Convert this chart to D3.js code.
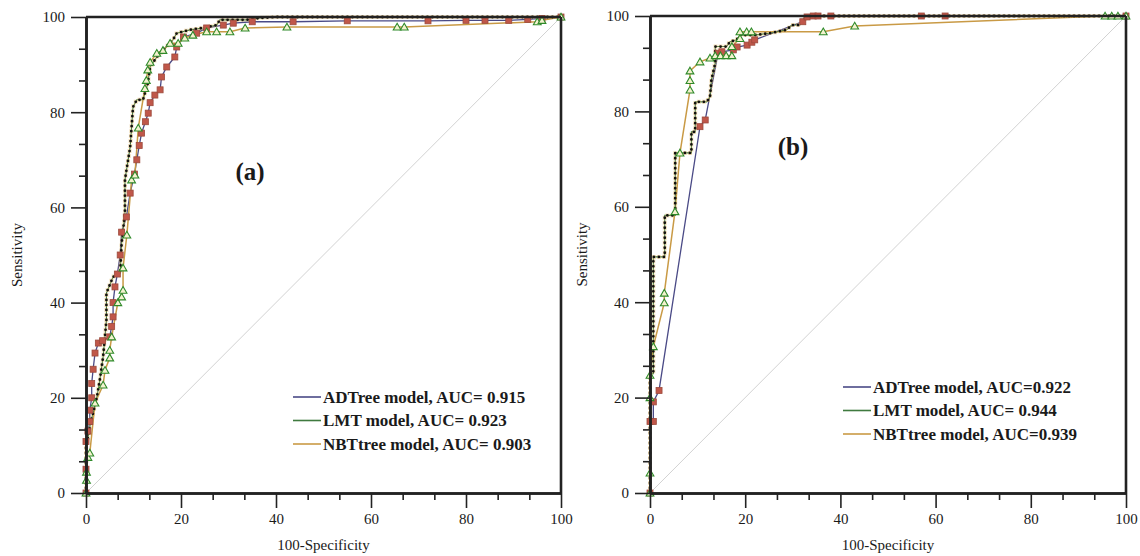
<!DOCTYPE html>
<html>
<head>
<meta charset="utf-8">
<script src="https://cdn.jsdelivr.net/npm/d3@7"></script>
<style>
  body { margin: 0; background: #fff; }
  text { font-family: "Liberation Serif", "Times New Roman", serif; fill: #1a1a1a; }
</style>
</head>
<body>
<div id="chart"></div>
<script>
// tick labels
var majorTicks = [0, 20, 40, 60, 80, 100];
var xTitle = "100-Specificity";
var yTitle = "Sensitivity";

// legend text
var legendA = ["ADTree model, AUC= 0.915", "LMT model, AUC= 0.923", "NBTtree model, AUC= 0.903"];
var legendB = ["ADTree model, AUC=0.922", "LMT model, AUC= 0.944", "NBTtree model, AUC=0.939"];

// panel (a) curves: [100-specificity, sensitivity]
var adtreeA = [[0,0],[0,5],[0,10.8],[0.4,13],[0.8,15],[0.8,17.4],[1.2,20],[1.2,23],[1.5,26],[1.9,29.4],[2.6,31.5],[3.5,32],[5,32.8],[5.4,35],[5.7,37],[5.7,40],[6.1,43.3],[6.6,46],[7.2,50],[7.5,54.8],[8.5,58],[9.3,63],[10.2,67],[10.7,70],[11.2,73],[11.7,75.6],[12.5,78],[13.1,79.8],[13.5,82],[14.5,83.6],[15.6,84.7],[15.9,87.4],[17,89.5],[18.7,91.6],[19.1,93.7],[20.5,95.8],[23.3,96.6],[25.4,97.7],[28.9,98.3],[31,98.7],[35,99],[43.6,99],[55,99.2],[72,99.2],[80,99.3],[84,99.3],[89,99.3],[93,99.5],[96,99.7],[100,100]];
var lmtA = [[0,0],[0,10],[0.5,12],[1,15],[1.5,16.8],[2.3,20.2],[2.9,23.7],[3.6,28.6],[4.3,36.3],[4.3,42],[5.7,45.4],[7.2,46.2],[7.5,52.5],[8.2,58.8],[8.2,65.8],[9.3,72.7],[9.9,81.1],[10.7,82.6],[12,82.6],[13,86],[13.5,89.5],[14.9,91.6],[16.2,93],[18.3,95.2],[19.1,96.6],[21.9,97.3],[24.6,97.7],[27.5,98.3],[28.2,99.4],[33.8,99.4],[36.6,99.8],[40,100],[100,100]];
var nbtA = [[0,0],[0.1,2.7],[0.1,4.4],[0.4,7.5],[0.8,8.4],[1.9,18.9],[3.6,22.7],[4,25.8],[5,28.4],[5,30],[5.4,32.8],[6.7,40],[7.5,41.2],[7.8,42.6],[7.8,47.3],[8.6,54.2],[9.6,65.8],[10.3,66.8],[11,76.7],[12.4,85],[12.7,86.7],[13,88.9],[13.5,90.5],[14.9,92.4],[16.2,93],[17.7,94.5],[19.4,94.5],[20.8,95.6],[22.5,96.2],[25.4,96.9],[27.5,96.9],[30.3,96.9],[33.5,97.7],[42.3,97.9],[65.5,97.9],[67,97.9],[95,99],[96,99.3],[100,100]];

// panel (b) curves
var adtreeB = [[0,0],[0,15],[0.7,15],[0.7,19.1],[1.9,21.5],[10.5,76.8],[11.6,78.2],[14.3,92.2],[15.1,92.5],[17.5,92.9],[18.3,93.5],[20.4,93.9],[21.4,94.5],[22,95],[32.1,98.8],[33,99.8],[34.3,100],[35.3,100],[38,100],[57,100],[62,100],[100,100]];
var lmtB = [[0,0],[0,20],[0,25],[0.7,25],[0.7,49.5],[3.1,49.5],[3.1,58.2],[5.3,58.2],[5.3,71.3],[8.7,71.3],[8.7,75.7],[9.5,75.7],[9.5,82],[11.9,82],[12.6,83],[12.9,86.6],[13.7,90.1],[13.7,93.6],[16.1,93.6],[16.8,94.6],[18.2,95],[18.9,96],[22,96],[25.2,96.4],[28.7,97.1],[29.8,98.1],[31.5,98.1],[31.9,98.8],[32.9,99.8],[35,100],[100,100]];
var nbtB = [[0,0],[0,4.2],[0,20],[0,24.7],[0.7,30.7],[3,39.9],[3,41.9],[5.25,59],[6.3,71.3],[8.4,84.5],[8.4,86.5],[8.4,88.5],[10.5,90.4],[12.6,91.2],[13.7,91.7],[14.8,91.7],[16,91.7],[17.2,91.7],[17.2,93.6],[18.9,95.3],[18.9,96.7],[20.3,96.7],[21.3,96.7],[36.4,96.7],[43,97.9],[95.6,100],[97,100],[98.3,100],[100,100]];

var colors = { adtree: "#4a4a86", lmt: "#3f7a3f", nbt: "#c99a45" };

var svg = d3.select("#chart")
  .append("svg")
  .attr("width", 1140)
  .attr("height", 556);

function drawPanel(p) {
  var x = d3.scaleLinear().domain([0, 100]).range([p.left, p.right]);
  var y = d3.scaleLinear().domain([0, 100]).range([p.bottom, p.top]);
  var g = svg.append("g");

  // chance diagonal
  g.append("line")
    .attr("x1", x(0)).attr("y1", y(0))
    .attr("x2", x(100)).attr("y2", y(100))
    .attr("stroke", "#d2d2d2").attr("stroke-width", 1);

  var line = d3.line().x(d => x(d[0])).y(d => y(d[1]));

  g.append("path").datum(p.adtree).attr("d", line)
    .attr("fill", "none").attr("stroke", colors.adtree).attr("stroke-width", 1.3);
  g.append("path").datum(p.nbt).attr("d", line)
    .attr("fill", "none").attr("stroke", colors.nbt).attr("stroke-width", 1.5);
  g.append("path").datum(p.lmt).attr("d", line)
    .attr("fill", "none").attr("stroke", colors.lmt).attr("stroke-width", 1.1);
  // dotted markers along LMT curve
  g.append("path").datum(p.lmt).attr("d", line)
    .attr("fill", "none").attr("stroke", "#e2b866").attr("stroke-width", 4)
    .attr("stroke-dasharray", "0,5").attr("stroke-linecap", "square").attr("opacity", 0.45);
  g.append("path").datum(p.lmt).attr("d", line)
    .attr("fill", "none").attr("stroke", "#111").attr("stroke-width", 2.8)
    .attr("stroke-dasharray", "0,5").attr("stroke-linecap", "round");

  // ADTree square markers
  g.selectAll(".sq").data(p.adtree).enter().append("rect")
    .attr("x", d => x(d[0]) - 3).attr("y", d => y(d[1]) - 3)
    .attr("width", 6).attr("height", 6)
    .attr("fill", "#c0574a").attr("stroke", "#9c4a3c").attr("stroke-width", 0.8);

  // NBTtree triangle markers
  var tri = d3.symbol().type(d3.symbolTriangle).size(26);
  g.selectAll(".tri").data(p.nbt).enter().append("path")
    .attr("d", tri)
    .attr("transform", d => "translate(" + x(d[0]) + "," + (y(d[1]) + 0.8) + ")")
    .attr("fill", "#f4f2cf").attr("stroke", "#2f8a2a").attr("stroke-width", 1.1);

  // axes
  var minor = d3.range(0, 100.01, 20 / 3).filter(v => Math.abs(v / 20 - Math.round(v / 20)) > 0.01);

  g.append("g").attr("transform", "translate(0," + p.bottom + ")")
    .call(d3.axisBottom(x).tickValues(majorTicks).tickSize(15).tickSizeOuter(0).tickPadding(5));
  g.append("g").attr("transform", "translate(0," + p.bottom + ")")
    .call(d3.axisBottom(x).tickValues(minor).tickSize(7).tickFormat("").tickSizeOuter(0));
  g.append("g").attr("transform", "translate(" + p.left + ",0)")
    .call(d3.axisLeft(y).tickValues(majorTicks).tickSize(15).tickSizeOuter(0).tickPadding(6));
  g.append("g").attr("transform", "translate(" + p.left + ",0)")
    .call(d3.axisLeft(y).tickValues(minor).tickSize(7).tickFormat("").tickSizeOuter(0));

  g.selectAll(".domain").attr("stroke", "#222").attr("stroke-width", 2.6);
  g.selectAll(".tick line").attr("stroke", "#222").attr("stroke-width", 1.6);
  g.selectAll(".tick text").style("font-family", "Liberation Serif, serif").style("font-size", "15px").attr("fill", "#1a1a1a");

  // top and right frame
  g.append("line").attr("x1", p.left).attr("y1", p.top).attr("x2", p.right).attr("y2", p.top)
    .attr("stroke", "#222").attr("stroke-width", 2.6);
  g.append("line").attr("x1", p.right).attr("y1", p.top).attr("x2", p.right).attr("y2", p.bottom)
    .attr("stroke", "#222").attr("stroke-width", 2.6);

  // axis titles
  g.append("text").attr("x", (p.left + p.right) / 2).attr("y", 550)
    .attr("text-anchor", "middle").style("font-size", "15px").text(xTitle);
  g.append("text")
    .attr("transform", "translate(" + p.yTitleX + "," + ((p.top + p.bottom) / 2) + ") rotate(-90)")
    .attr("text-anchor", "middle").style("font-size", "15px").text(yTitle);

  // panel label
  g.append("text").attr("x", p.labelX).attr("y", p.labelY)
    .attr("text-anchor", "middle").style("font-size", "25px").style("font-weight", "bold").text(p.label);

  // legend
  var legendColors = [colors.adtree, colors.lmt, colors.nbt];
  p.legend.forEach(function(txt, i) {
    var ly = p.legY + i * 23.5;
    g.append("line").attr("x1", p.legX).attr("x2", p.legX + 28).attr("y1", ly).attr("y2", ly)
      .attr("stroke", legendColors[i]).attr("stroke-width", 1.6);
    g.append("text").attr("x", p.legX + 30).attr("y", ly + 5.5)
      .style("font-size", "17px").style("font-weight", "bold").text(txt);
  });
}

drawPanel({
  left: 86, right: 561, top: 17, bottom: 493,
  adtree: adtreeA, lmt: lmtA, nbt: nbtA,
  legend: legendA, legX: 293, legY: 397,
  label: "(a)", labelX: 250, labelY: 180, yTitleX: 22
});

drawPanel({
  left: 650, right: 1126, top: 16, bottom: 493,
  adtree: adtreeB, lmt: lmtB, nbt: nbtB,
  legend: legendB, legX: 843, legY: 387,
  label: "(b)", labelX: 793, labelY: 155, yTitleX: 587
});
</script>
</body>
</html>
